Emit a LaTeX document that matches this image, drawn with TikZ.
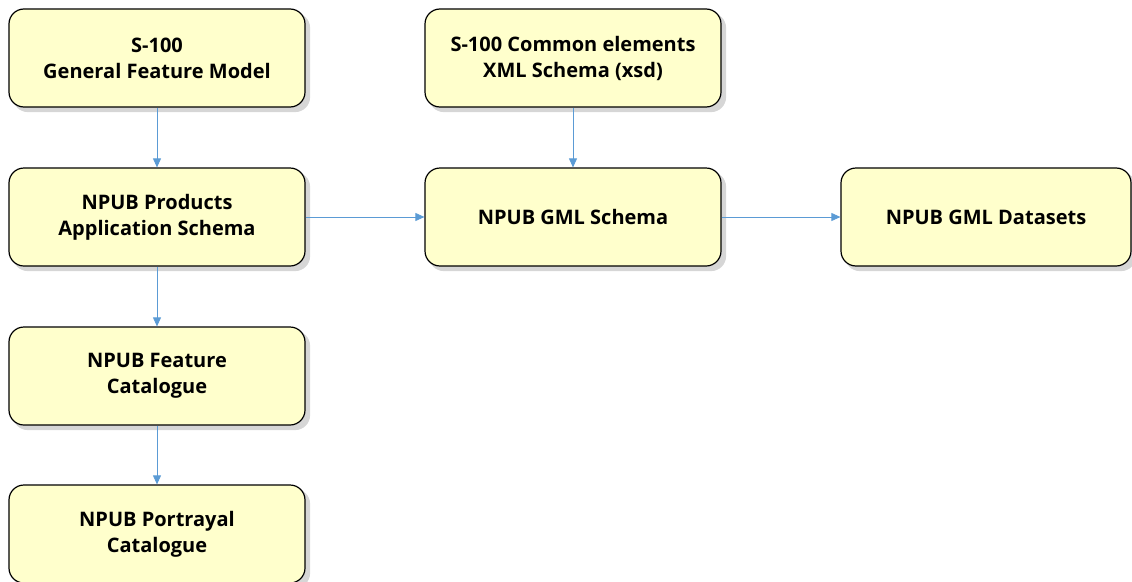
\documentclass[tikz,border=0pt]{standalone}
\usepackage{fontspec}
\setmainfont{Open Sans}[BoldFont={* Bold}]
\usetikzlibrary{arrows.meta,backgrounds}
\definecolor{boxfill}{HTML}{FFFFCC}
\definecolor{arrowc}{HTML}{5B9BD5}
\definecolor{shadowc}{HTML}{D6D6D6}
\begin{document}
\begin{tikzpicture}[x=1pt,y=-1pt,
  stepbox/.style={draw=black, line width=1.2pt, fill=boxfill, rounded corners=15pt,
    minimum width=296pt, minimum height=98pt, align=center, inner sep=0pt,
    font=\fontsize{20}{26}\selectfont\bfseries},
  shadowbox/.style={fill=shadowc, rounded corners=15pt},
  conn/.style={draw=arrowc, line width=0.8pt, -{Triangle[length=9pt,width=8pt]}}]
\useasboundingbox (0,0) rectangle (1132,581);
\node[stepbox] (gfm) at (157,58) {S-100\\General Feature Model};
\node[stepbox] (app) at (157,217) {NPUB Products\\Application Schema};
\node[stepbox] (fc) at (157,376) {NPUB Feature\\Catalogue};
\node[stepbox] (pc) at (157,534) {NPUB Portrayal\\Catalogue};
\node[stepbox] (ce) at (573,58) {S-100 Common elements\\XML Schema (xsd)};
\node[stepbox] (gml) at (573,217) {NPUB GML Schema};
\node[stepbox, minimum width=290pt] (ds) at (986,217) {NPUB GML Datasets};
\begin{pgfonlayer}{background}
\foreach \n in {gfm,app,fc,pc,ce,gml,ds}
  \fill[shadowbox] ([shift={(4.5,4.5)}]\n.north west) rectangle ([shift={(4.5,4.5)}]\n.south east);
\end{pgfonlayer}
\draw[conn] (gfm) -- (app);
\draw[conn] (app) -- (fc);
\draw[conn] (fc) -- (pc);
\draw[conn] (ce) -- (gml);
\draw[conn] (app) -- (gml);
\draw[conn] (gml) -- (ds);
\end{tikzpicture}
\end{document}
